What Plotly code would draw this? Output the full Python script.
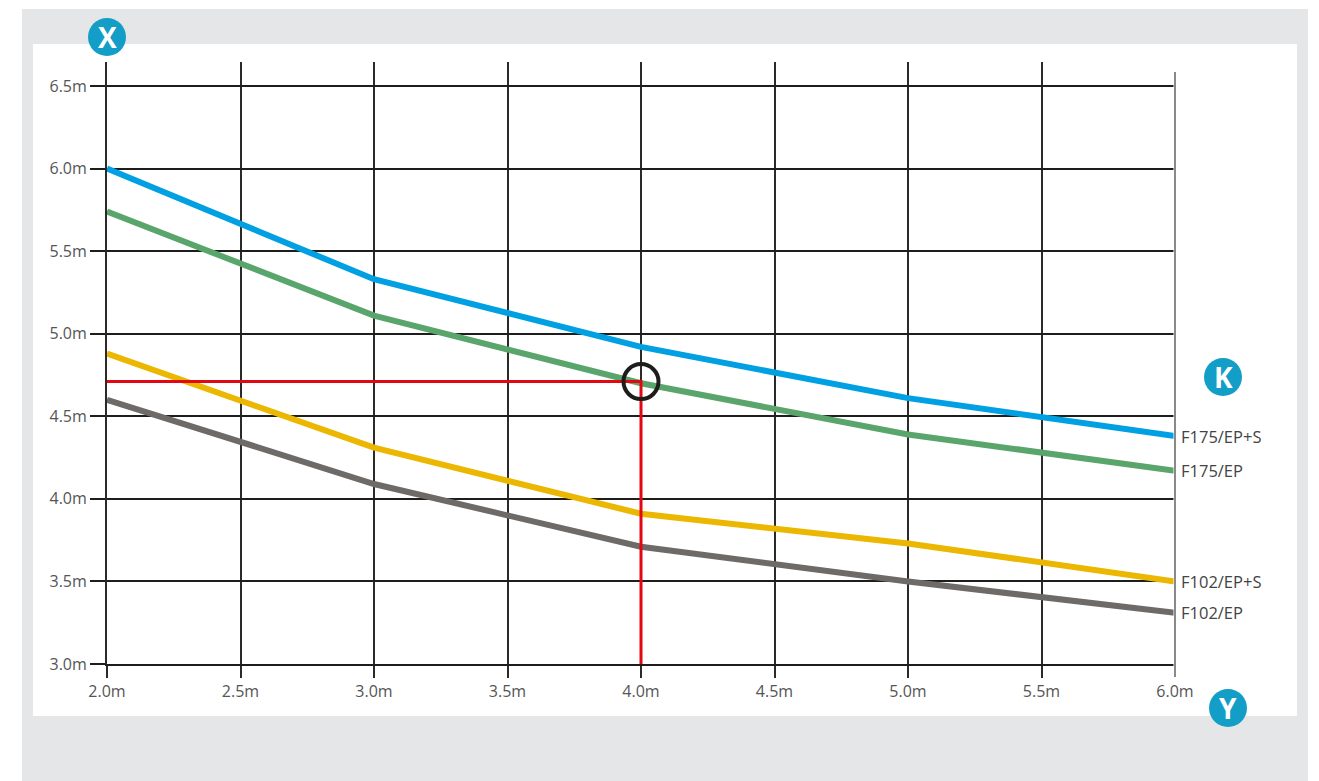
import plotly.graph_objects as go

# ---- data ----
x_span = [2.0, 3.0, 4.0, 5.0, 6.0]
f175_eps = [6.00, 5.33, 4.92, 4.61, 4.38]
f175_ep = [5.74, 5.11, 4.70, 4.39, 4.17]
f102_eps = [4.88, 4.31, 3.91, 3.73, 3.50]
f102_ep = [4.60, 4.09, 3.71, 3.50, 3.31]

series_names = ["F175/EP+S", "F175/EP", "F102/EP+S", "F102/EP"]
series_vals = [f175_eps, f175_ep, f102_eps, f102_ep]
series_colors = ["#00a0e2", "#5aa56b", "#ebb700", "#6d6a67"]

# example reading
example_x = 4.0
example_y = 4.71

x_ticks = [2.0, 2.5, 3.0, 3.5, 4.0, 4.5, 5.0, 5.5, 6.0]
x_ticktext = ["2.0m", "2.5m", "3.0m", "3.5m", "4.0m", "4.5m", "5.0m", "5.5m", "6.0m"]
y_ticks = [3.0, 3.5, 4.0, 4.5, 5.0, 5.5, 6.0, 6.5]
y_ticktext = ["3.0m", "3.5m", "4.0m", "4.5m", "5.0m", "5.5m", "6.0m", "6.5m"]

OFF = 8  # page body margin
W, H = 1319 - OFF, 781 - OFF
L, R, T, B = 107 - OFF, 1175 - OFF, 62 - OFF, 664 - OFF  # plot area in figure px
y_top_val = 6.5 + (86 - 62) / ((664 - 86) / 3.5)

FONT = "Open Sans, Lato, sans-serif"

fig = go.Figure()

for name, vals, col in zip(series_names, series_vals, series_colors):
    fig.add_trace(go.Scatter(x=x_span, y=vals, mode="lines", name=name,
                             line=dict(color=col, width=6), hoverinfo="skip"))

# red reading lines
fig.add_trace(go.Scatter(x=[x_span[0], example_x, example_x],
                         y=[example_y, example_y, y_ticks[0]],
                         mode="lines", line=dict(color="#e30613", width=3),
                         showlegend=False, hoverinfo="skip"))
fig.add_trace(go.Scatter(x=[example_x], y=[example_y], mode="markers",
                         marker=dict(symbol="circle-open", size=35,
                                     line=dict(color="#1d1d1b", width=4),
                                     color="#1d1d1b"),
                         showlegend=False, hoverinfo="skip"))

# series labels at right end
for name, vals in zip(series_names, series_vals):
    fig.add_annotation(x=x_span[-1], y=vals[-1], xref="x", yref="y",
                       text=name, showarrow=False, xanchor="left",
                       yanchor="middle", xshift=4,
                       font=dict(family=FONT, size=16.5, color="#444444"))


def px_x(p):
    """screen px -> paper x"""
    return (p - OFF - L) / (R - L)


def px_y(p):
    """screen px -> paper y"""
    return (B - (p - OFF)) / (B - T)


shapes = []
shapes.append(dict(type="rect", xref="paper", yref="paper", layer="below",
                   x0=px_x(22), x1=px_x(1308), y0=px_y(790), y1=px_y(9),
                   fillcolor="#e5e6e7", line=dict(width=0)))
shapes.append(dict(type="rect", xref="paper", yref="paper", layer="below",
                   x0=px_x(33), x1=px_x(1297), y0=px_y(716), y1=px_y(44),
                   fillcolor="#ffffff", line=dict(width=0)))
# right edge thin gray line
shapes.append(dict(type="line", xref="paper", yref="paper", layer="above",
                   x0=1, x1=1, y0=px_y(679), y1=px_y(60),
                   line=dict(color="#ffffff", width=3)))
shapes.append(dict(type="line", xref="paper", yref="paper", layer="above",
                   x0=1, x1=1, y0=px_y(677), y1=px_y(72),
                   line=dict(color="#8a8a8a", width=2)))

# icon circles
icons = [("X", 107, 37), ("K", 1223, 377), ("Y", 1228, 708)]
for letter, cx, cy in icons:
    shapes.append(dict(type="circle", xref="paper", yref="paper",
                       xsizemode="pixel", ysizemode="pixel",
                       xanchor=px_x(cx), yanchor=px_y(cy),
                       x0=-19, x1=19, y0=-19, y1=19,
                       fillcolor="#129ec6", line=dict(width=0), layer="above"))
    fig.add_annotation(x=px_x(cx), y=px_y(cy), xref="paper", yref="paper",
                       text=letter, showarrow=False, xanchor="center",
                       yanchor="middle", yshift=0,
                       font=dict(family=FONT, size=28, color="#ffffff",
                                 weight="bold"))

fig.update_layout(
    width=W, height=H,
    margin=dict(l=L, r=W - R, t=T, b=H - B, pad=0),
    paper_bgcolor="#ffffff", plot_bgcolor="rgba(0,0,0,0)",
    showlegend=False,
    shapes=shapes,
    font=dict(family=FONT, size=16, color="#555555"),
)
fig.update_xaxes(range=[x_ticks[0], x_ticks[-1]], tickvals=x_ticks,
                 ticktext=x_ticktext, showgrid=True, gridcolor="#2b2a29",
                 gridwidth=2, zeroline=False, showline=True,
                 linecolor="#1d1d1b", linewidth=2,
                 ticks="outside", ticklen=12, tickwidth=2, tickcolor="#2b2a29",
                 tickfont=dict(family=FONT, size=16, color="#555555"),
                 fixedrange=True)
fig.update_yaxes(range=[y_ticks[0], y_top_val], tickvals=y_ticks,
                 ticktext=y_ticktext, showgrid=True, gridcolor="#1d1d1b",
                 gridwidth=2, zeroline=False, showline=True,
                 linecolor="#2b2a29", linewidth=2,
                 ticks="outside", ticklen=15, tickwidth=2, tickcolor="#1d1d1b",
                 tickfont=dict(family=FONT, size=16, color="#555555"),
                 fixedrange=True)

fig.write_html("out.html")
